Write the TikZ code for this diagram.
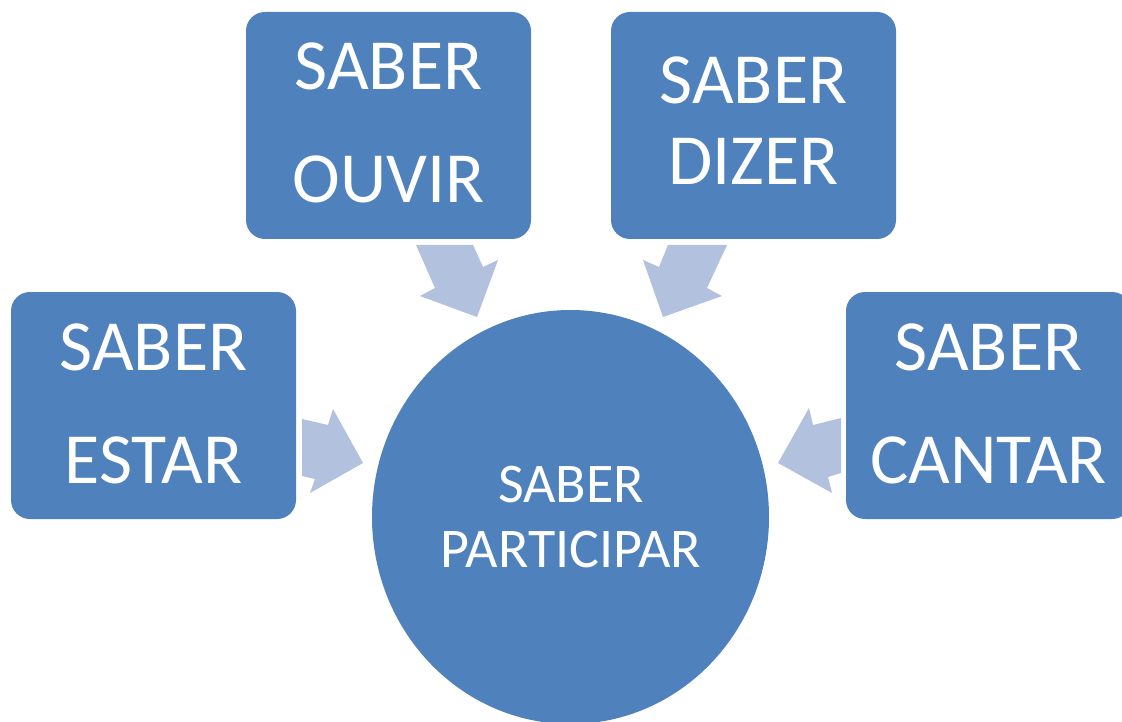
\documentclass[tikz,border=0pt]{standalone}
\usepackage{fontspec}
\setmainfont{Carlito}
\usetikzlibrary{shapes.geometric}
\definecolor{boxblue}{HTML}{4F81BD}
\definecolor{arrowblue}{HTML}{B2C1DD}
\tikzset{
  box/.style={draw=none, fill=boxblue, rounded corners=19pt, minimum width=285pt, minimum height=227pt, inner sep=0pt},
  boxtext/.style={anchor=base, text=white, font=\fontsize{72}{80}\selectfont, inner sep=0pt},
  hubtext/.style={anchor=base, text=white, font=\fontsize{56}{62}\selectfont, inner sep=0pt},
  blockarrow/.style={fill=arrowblue, draw=none}
}
\begin{document}
\begin{tikzpicture}[x=1pt,y=-1pt]
\useasboundingbox (0,0) rectangle (1122,722);
\clip (0,0) rectangle (1122,722);
\fill[white] (0,0) rectangle (1122,722);
% hub
\node[ellipse, fill=boxblue, minimum width=397pt, minimum height=414pt, inner sep=0pt] (hub) at (570.5,517) {};
\node[hubtext] (hubA) at (571,502) {SABER};
\node[hubtext] (hubB) at (571,567) {PARTICIPAR};
% boxes
\node[box] (ouvir) at (388.5,125.5) {};
\node[boxtext] (ouvirA) at (388.5,90) {SABER};
\node[boxtext] (ouvirB) at (388.5,203) {OUVIR};
\node[box] (dizer) at (753.5,125.5) {};
\node[boxtext] (dizerA) at (753.5,104) {SABER};
\node[boxtext] (dizerB) at (753.5,185) {DIZER};
\node[box] (estar) at (153.5,405.5) {};
\node[boxtext] (estarA) at (153.5,370) {SABER};
\node[boxtext] (estarB) at (153.5,483) {ESTAR};
\node[box] (cantar) at (988.5,405.5) {};
\node[boxtext] (cantarA) at (988.5,370) {SABER};
\node[boxtext] (cantarB) at (988.5,483) {CANTAR};
% block arrows
\fill[blockarrow] (416,245) -- (473,245) -- (483,267) -- (498,260) -- (477,317) -- (420,296) -- (435,288) -- cycle;
\fill[blockarrow] (668,245) -- (727,245) -- (707,288) -- (722,296) -- (663,317) -- (643,260) -- (659,267) -- cycle;
\fill[blockarrow] (302,419) -- (328,425) -- (333,409) -- (363,463) -- (310,493) -- (315,479) -- (302,476) -- cycle;
\fill[blockarrow] (841,418) -- (813,425) -- (809,408) -- (778,463) -- (832,493) -- (828,477) -- (841,473) -- cycle;
\end{tikzpicture}
\end{document}
